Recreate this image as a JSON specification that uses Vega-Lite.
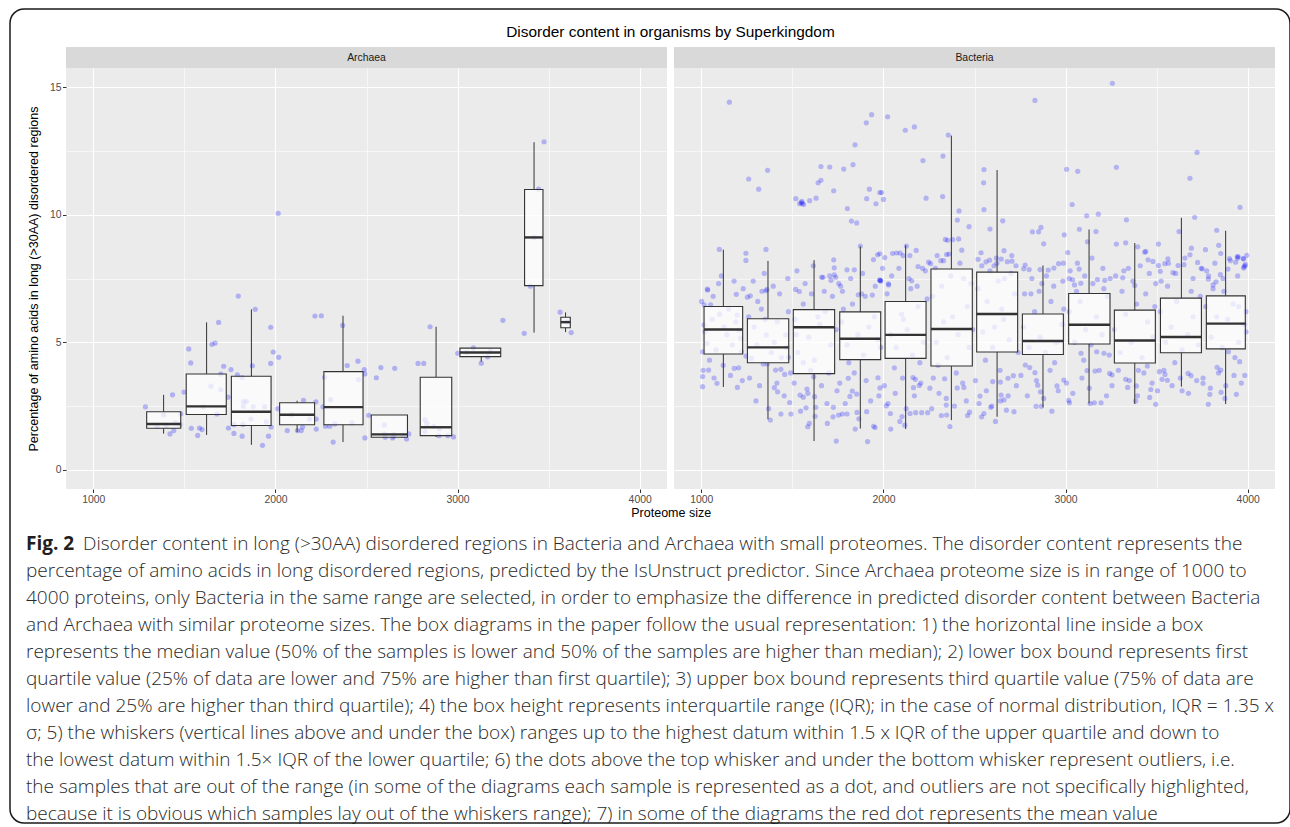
{
  "$schema": "https://vega.github.io/schema/vega-lite/v6.json",
  "background": "white",
  "padding": {"left": 9, "top": 8, "right": 1, "bottom": 1},
  "autosize": {"type": "pad"},
  "config": {
    "view": {"stroke": null},
    "font": "Liberation Sans",
    "axis": {"domain": false, "gridColor": "#FFFFFF", "labelColor": "#4D4D4D", "labelFont": "Liberation Sans", "labelFontSize": 10.4, "tickColor": "#333333", "tickSize": 3.5, "tickWidth": 1, "labelPadding": 1.5, "titleFont": "Liberation Sans", "titleFontSize": 12.5, "titleFontWeight": "normal", "titleColor": "#000000", "labelOverlap": false, "labelFlush": false},
    "title": {"font": "Liberation Sans", "fontWeight": "normal", "color": "#000000"}
  },
  "datasets": {
    "boxA": [
      {"c":1386,"lo":1293,"hi":1480,"lw":1.42,"q1":1.63,"med":1.80,"q3":2.28,"uw":2.94},
      {"c":1622,"lo":1510,"hi":1730,"lw":1.37,"q1":2.17,"med":2.49,"q3":3.76,"uw":5.78},
      {"c":1868,"lo":1758,"hi":1976,"lw":0.98,"q1":1.74,"med":2.28,"q3":3.67,"uw":6.29},
      {"c":2119,"lo":2023,"hi":2215,"lw":1.48,"q1":1.77,"med":2.16,"q3":2.63,"uw":2.71},
      {"c":2371,"lo":2266,"hi":2481,"lw":1.09,"q1":1.77,"med":2.46,"q3":3.85,"uw":6.04},
      {"c":2626,"lo":2526,"hi":2725,"lw":1.28,"q1":1.28,"med":1.39,"q3":2.15,"uw":2.15},
      {"c":2882,"lo":2795,"hi":2968,"lw":1.29,"q1":1.34,"med":1.67,"q3":3.63,"uw":5.61},
      {"c":3130,"lo":3013,"hi":3237,"lw":4.24,"q1":4.44,"med":4.60,"q3":4.77,"uw":4.77},
      {"c":3420,"lo":3368,"hi":3469,"lw":5.38,"q1":7.22,"med":9.11,"q3":10.99,"uw":12.84},
      {"c":3593,"lo":3567,"hi":3619,"lw":5.40,"q1":5.57,"med":5.79,"q3":5.98,"uw":6.17}
    ],
    "boxB": [
      {"c":1121,"lo":1015,"hi":1227,"lw":3.25,"q1":4.54,"med":5.50,"q3":6.40,"uw":8.63},
      {"c":1366,"lo":1253,"hi":1480,"lw":1.98,"q1":4.20,"med":4.80,"q3":5.92,"uw":8.19},
      {"c":1619,"lo":1505,"hi":1732,"lw":1.13,"q1":3.77,"med":5.59,"q3":6.28,"uw":8.22},
      {"c":1873,"lo":1760,"hi":1985,"lw":1.62,"q1":4.32,"med":5.14,"q3":6.19,"uw":8.76},
      {"c":2122,"lo":2009,"hi":2234,"lw":1.60,"q1":4.37,"med":5.29,"q3":6.60,"uw":8.80},
      {"c":2373,"lo":2261,"hi":2488,"lw":1.95,"q1":4.07,"med":5.52,"q3":7.87,"uw":13.10},
      {"c":2624,"lo":2512,"hi":2737,"lw":2.08,"q1":4.62,"med":6.11,"q3":7.75,"uw":11.75},
      {"c":2876,"lo":2763,"hi":2988,"lw":2.45,"q1":4.52,"med":5.05,"q3":6.11,"uw":8.01},
      {"c":3129,"lo":3017,"hi":3244,"lw":2.60,"q1":4.93,"med":5.69,"q3":6.91,"uw":9.42},
      {"c":3380,"lo":3268,"hi":3493,"lw":2.58,"q1":4.19,"med":5.07,"q3":6.26,"uw":8.89},
      {"c":3636,"lo":3521,"hi":3746,"lw":3.26,"q1":4.59,"med":5.21,"q3":6.73,"uw":9.88},
      {"c":3879,"lo":3773,"hi":3987,"lw":2.58,"q1":4.74,"med":5.73,"q3":6.82,"uw":9.37}
    ],
    "ptsA": [
      {"x":1286,"y":2.47},{"x":1421,"y":1.41},{"x":1435,"y":2.94},{"x":1442,"y":1.54},{"x":1386,"y":2.16},{"x":1480,"y":2.20},{"x":1498,"y":3.05},{"x":1475,"y":1.77},{"x":1524,"y":4.74},{"x":1535,"y":4.19},
      {"x":1538,"y":1.63},{"x":1573,"y":1.35},{"x":1583,"y":1.64},{"x":1597,"y":1.58},{"x":1604,"y":2.47},{"x":1646,"y":3.28},{"x":1651,"y":4.92},{"x":1669,"y":4.97},{"x":1679,"y":2.19},{"x":1688,"y":5.78},
      {"x":1700,"y":3.14},{"x":1700,"y":3.75},{"x":1716,"y":4.06},{"x":1740,"y":2.85},{"x":1742,"y":1.64},{"x":1756,"y":3.93},{"x":1772,"y":1.43},{"x":1772,"y":1.77},{"x":1796,"y":6.81},{"x":1791,"y":3.72},
      {"x":1817,"y":3.62},{"x":1817,"y":1.32},{"x":1822,"y":1.78},{"x":1824,"y":2.49},{"x":1840,"y":2.68},{"x":1824,"y":2.68},{"x":1873,"y":4.08},{"x":1889,"y":6.29},{"x":1878,"y":2.47},{"x":1866,"y":1.99},
      {"x":1929,"y":0.96},{"x":1941,"y":2.47},{"x":1950,"y":1.88},{"x":1962,"y":1.32},{"x":1974,"y":5.59},{"x":1974,"y":4.17},{"x":1976,"y":1.68},{"x":1988,"y":4.62},{"x":2018,"y":4.41},{"x":2013,"y":2.40},
      {"x":2015,"y":10.05},{"x":2065,"y":1.54},{"x":2088,"y":2.16},{"x":2121,"y":1.54},{"x":2142,"y":1.54},{"x":2154,"y":2.72},{"x":2149,"y":1.68},{"x":2187,"y":1.99},{"x":2217,"y":6.03},{"x":2252,"y":6.04},
      {"x":2222,"y":2.67},{"x":2224,"y":1.60},{"x":2224,"y":1.99},{"x":2261,"y":2.47},{"x":2270,"y":3.63},{"x":2275,"y":1.71},{"x":2303,"y":2.75},{"x":2317,"y":1.09},{"x":2326,"y":1.80},{"x":2299,"y":1.71},
      {"x":2369,"y":5.66},{"x":2394,"y":4.09},{"x":2420,"y":1.85},{"x":2453,"y":4.26},{"x":2457,"y":3.54},{"x":2488,"y":3.93},{"x":2491,"y":3.76},{"x":2491,"y":1.25},{"x":2512,"y":2.14},{"x":2554,"y":3.61},
      {"x":2579,"y":4.01},{"x":2598,"y":1.76},{"x":2603,"y":1.28},{"x":2643,"y":1.25},{"x":2655,"y":3.98},{"x":2650,"y":1.32},{"x":2720,"y":1.21},{"x":2732,"y":1.41},{"x":2783,"y":4.17},{"x":2814,"y":4.17},
      {"x":2821,"y":1.97},{"x":2832,"y":1.82},{"x":2821,"y":1.50},{"x":2849,"y":5.61},{"x":2898,"y":1.34},{"x":2947,"y":1.34},{"x":2978,"y":1.29},{"x":3001,"y":4.57},{"x":3087,"y":4.78},{"x":3130,"y":4.18},
      {"x":3165,"y":4.43},{"x":3249,"y":5.86},{"x":3366,"y":5.35},{"x":3475,"y":12.86},{"x":3420,"y":9.10},{"x":3445,"y":11.0},{"x":3400,"y":7.20},{"x":3563,"y":6.18},{"x":3624,"y":5.38},{"x":3600,"y":5.80},
      {"x":3050,"y":4.60},{"x":3180,"y":4.65},{"x":1400,"y":1.75},{"x":1450,"y":1.85},{"x":1350,"y":1.70},{"x":2650,"y":1.38},{"x":2700,"y":1.35},{"x":2600,"y":1.40},{"x":2900,"y":1.62},{"x":2870,"y":1.70}
    ],
    "ptsB": [
      {"x":1154,"y":14.41},{"x":1033,"y":7.08},{"x":1099,"y":8.64},{"x":1245,"y":8.49},{"x":1245,"y":8.21},{"x":1260,"y":11.40},{"x":1315,"y":11.00},{"x":1364,"y":11.74},{"x":1355,"y":8.64},{"x":1360,"y":7.07},
      {"x":1519,"y":10.63},{"x":1540,"y":10.43},{"x":1548,"y":10.47},{"x":1555,"y":10.45},{"x":1562,"y":10.40},{"x":1552,"y":10.52},{"x":1595,"y":10.55},{"x":1630,"y":10.65},{"x":1641,"y":11.25},{"x":1657,"y":11.35},
      {"x":1657,"y":11.89},{"x":1705,"y":11.87},{"x":1727,"y":10.94},{"x":1782,"y":11.79},{"x":1802,"y":10.24},{"x":1824,"y":9.75},{"x":1833,"y":11.96},{"x":1844,"y":12.74},{"x":1853,"y":9.68},{"x":1873,"y":8.77},
      {"x":1906,"y":13.60},{"x":1935,"y":13.92},{"x":1908,"y":10.63},{"x":1923,"y":11.00},{"x":1959,"y":10.43},{"x":1980,"y":10.87},{"x":1990,"y":10.87},{"x":2000,"y":10.60},{"x":2023,"y":13.84},{"x":1983,"y":7.42},
      {"x":1979,"y":7.45},{"x":1986,"y":7.40},{"x":2027,"y":7.29},{"x":2120,"y":13.31},{"x":2170,"y":13.44},{"x":2126,"y":8.77},{"x":2217,"y":12.12},{"x":2234,"y":10.65},{"x":2327,"y":12.30},{"x":2325,"y":10.71},
      {"x":2356,"y":13.12},{"x":2415,"y":10.15},{"x":2406,"y":9.79},{"x":2470,"y":9.53},{"x":2413,"y":9.05},{"x":2380,"y":9.02},{"x":2352,"y":9.00},{"x":2340,"y":9.03},{"x":2430,"y":8.61},{"x":2552,"y":11.77},
      {"x":2550,"y":11.25},{"x":2552,"y":10.20},{"x":2585,"y":9.44},{"x":2655,"y":9.76},{"x":2662,"y":8.59},{"x":2832,"y":14.48},{"x":2818,"y":9.33},{"x":2852,"y":9.33},{"x":2865,"y":9.50},{"x":2880,"y":8.86},
      {"x":3006,"y":11.78},{"x":3067,"y":11.70},{"x":3036,"y":10.40},{"x":3012,"y":8.52},{"x":2993,"y":9.21},{"x":3076,"y":9.43},{"x":3116,"y":9.96},{"x":3180,"y":10.02},{"x":3167,"y":9.34},{"x":3120,"y":8.94},
      {"x":3257,"y":15.15},{"x":3279,"y":11.86},{"x":3334,"y":9.80},{"x":3279,"y":8.85},{"x":3330,"y":8.90},{"x":3396,"y":8.74},{"x":3510,"y":8.85},{"x":3435,"y":8.53},{"x":3683,"y":11.43},{"x":3722,"y":12.44},
      {"x":3709,"y":9.90},{"x":3623,"y":9.34},{"x":3691,"y":8.69},{"x":3768,"y":8.63},{"x":3830,"y":9.39},{"x":3841,"y":8.80},{"x":3852,"y":8.48},{"x":3958,"y":10.29},{"x":3995,"y":8.41},{"x":3945,"y":8.30},
      {"x":3978,"y":8.27},{"x":3900,"y":8.28},{"x":3980,"y":7.96},{"x":3892,"y":7.87},{"x":3784,"y":7.48},{"x":3826,"y":7.37},{"x":1727,"y":8.23},{"x":1800,"y":7.84},{"x":1840,"y":7.84},{"x":1705,"y":7.60},
      {"x":1738,"y":7.55},{"x":1755,"y":7.30},{"x":1668,"y":7.55},{"x":1945,"y":8.24},{"x":1968,"y":8.43},{"x":1980,"y":8.47},{"x":2007,"y":8.32},{"x":2050,"y":8.48},{"x":2072,"y":8.50},{"x":2092,"y":8.50},
      {"x":2108,"y":8.40},{"x":2145,"y":8.40},{"x":2180,"y":8.60},{"x":2155,"y":7.41},{"x":2190,"y":7.97},{"x":2215,"y":7.90},{"x":2248,"y":8.14},{"x":2259,"y":8.08},{"x":2295,"y":8.40},{"x":2315,"y":8.20},
      {"x":2347,"y":8.44},{"x":2360,"y":8.46},{"x":2520,"y":8.25},{"x":2536,"y":8.51},{"x":2563,"y":8.15},{"x":2583,"y":8.22},{"x":2607,"y":8.00},{"x":2623,"y":8.10},{"x":2647,"y":8.26},{"x":2680,"y":8.16},
      {"x":2706,"y":8.18},{"x":2728,"y":8.00},{"x":2770,"y":7.88},{"x":2800,"y":7.85},{"x":2778,"y":8.03},{"x":2860,"y":7.85},{"x":2905,"y":7.83},{"x":2936,"y":7.91},{"x":2962,"y":8.08},{"x":2988,"y":8.10},
      {"x":3020,"y":7.50},{"x":3049,"y":7.25},{"x":3084,"y":7.31},{"x":3075,"y":7.87},{"x":3038,"y":7.45},{"x":3175,"y":7.46},{"x":3215,"y":7.43},{"x":3210,"y":7.10},{"x":3314,"y":7.53},{"x":3345,"y":7.90},
      {"x":3380,"y":7.23},{"x":3440,"y":8.56},{"x":3453,"y":8.23},{"x":3480,"y":8.17},{"x":3510,"y":8.01},{"x":3520,"y":7.78},{"x":3545,"y":8.08},{"x":3562,"y":8.27},{"x":3590,"y":7.73},{"x":3618,"y":8.01},
      {"x":3650,"y":8.04},{"x":3683,"y":8.43},{"x":3725,"y":8.13},{"x":3750,"y":7.88},{"x":3785,"y":7.60},{"x":3810,"y":7.25},{"x":3850,"y":7.65},{"x":3934,"y":8.14},{"x":3948,"y":8.35},{"x":3975,"y":8.28},
      {"x":3987,"y":8.05},{"x":1002,"y":6.60},{"x":1015,"y":6.47},{"x":1007,"y":3.66},{"x":1007,"y":3.26},{"x":1035,"y":7.05},{"x":1040,"y":3.91},{"x":1086,"y":3.39},{"x":1051,"y":6.47},{"x":1192,"y":6.88},
      {"x":1181,"y":3.98},{"x":1198,"y":3.23},{"x":1253,"y":6.77},{"x":1269,"y":6.82},{"x":1245,"y":4.46},{"x":1333,"y":7.00},{"x":1355,"y":7.02},{"x":1340,"y":4.15},{"x":1362,"y":4.15},{"x":1408,"y":3.91},
      {"x":1437,"y":3.94},{"x":1401,"y":3.22},{"x":1419,"y":3.06},{"x":1379,"y":1.95},{"x":1437,"y":2.19},{"x":1492,"y":2.19},{"x":1485,"y":2.64},{"x":1458,"y":3.74},{"x":1478,"y":4.41},{"x":1518,"y":7.07},
      {"x":1538,"y":6.99},{"x":1542,"y":2.93},{"x":1560,"y":2.85},{"x":1575,"y":2.43},{"x":1584,"y":1.69},{"x":1593,"y":1.82},{"x":1580,"y":3.17},{"x":1617,"y":3.65},{"x":1622,"y":2.87},{"x":1628,"y":2.45},
      {"x":1661,"y":7.55},{"x":1692,"y":1.82},{"x":1741,"y":1.13},{"x":1712,"y":7.43},{"x":1730,"y":7.92},{"x":1730,"y":7.64},{"x":1725,"y":2.45},{"x":1723,"y":2.08},{"x":1754,"y":2.15},{"x":1765,"y":7.20},
      {"x":1774,"y":2.19},{"x":1800,"y":2.19},{"x":1816,"y":2.88},{"x":1807,"y":3.59},{"x":1829,"y":3.09},{"x":1853,"y":2.97},{"x":1855,"y":2.25},{"x":1862,"y":6.86},{"x":1880,"y":6.90},{"x":1908,"y":2.28},
      {"x":1913,"y":1.11},{"x":1946,"y":1.71},{"x":1954,"y":1.66},{"x":1939,"y":6.85},{"x":1981,"y":7.42},{"x":2029,"y":7.25},{"x":1970,"y":3.61},{"x":1981,"y":3.21},{"x":2016,"y":2.51},{"x":2038,"y":2.21},
      {"x":2040,"y":1.60},{"x":2102,"y":2.09},{"x":2117,"y":1.75},{"x":2146,"y":2.21},{"x":2177,"y":2.24},{"x":2210,"y":2.24},{"x":2243,"y":2.24},{"x":2162,"y":3.62},{"x":2175,"y":3.55},{"x":2165,"y":3.22},
      {"x":2197,"y":3.31},{"x":2274,"y":3.60},{"x":2336,"y":3.57},{"x":2345,"y":2.54},{"x":2318,"y":2.13},{"x":2347,"y":2.15},{"x":2405,"y":3.21},{"x":2442,"y":3.23},{"x":2462,"y":2.13},{"x":2473,"y":2.26},
      {"x":2530,"y":2.89},{"x":2539,"y":2.08},{"x":2552,"y":2.21},{"x":2589,"y":2.45},{"x":2600,"y":3.46},{"x":2642,"y":3.44},{"x":2646,"y":2.93},{"x":2642,"y":2.70},{"x":2662,"y":2.74},{"x":2675,"y":2.34},
      {"x":2717,"y":2.28},{"x":2713,"y":3.69},{"x":2684,"y":3.59},{"x":2779,"y":4.11},{"x":2803,"y":4.01},{"x":2832,"y":3.81},{"x":2847,"y":3.32},{"x":2838,"y":2.49},{"x":2867,"y":2.49},{"x":2862,"y":3.06},
      {"x":2953,"y":3.29},{"x":2990,"y":3.52},{"x":3017,"y":2.72},{"x":3021,"y":2.63},{"x":3085,"y":4.57},{"x":3118,"y":3.89},{"x":3162,"y":3.87},{"x":3158,"y":2.63},{"x":3195,"y":2.63},{"x":3171,"y":4.63},
      {"x":3211,"y":4.57},{"x":3242,"y":3.78},{"x":3255,"y":3.72},{"x":3330,"y":3.55},{"x":3341,"y":3.23},{"x":3389,"y":3.29},{"x":3449,"y":4.07},{"x":3468,"y":3.15},{"x":3462,"y":2.84},{"x":3495,"y":2.57},
      {"x":3515,"y":3.85},{"x":3530,"y":3.55},{"x":3546,"y":3.74},{"x":3559,"y":3.51},{"x":3673,"y":3.78},{"x":3689,"y":3.69},{"x":3755,"y":3.39},{"x":3792,"y":2.96},{"x":3784,"y":2.57},{"x":3854,"y":3.04},
      {"x":3938,"y":2.96},{"x":3984,"y":3.70},{"x":3852,"y":3.91},{"x":3832,"y":4.02},{"x":3894,"y":4.63},{"x":3956,"y":4.24},{"x":3991,"y":5.41},{"x":3951,"y":6.40},{"x":3978,"y":7.91},{"x":3943,"y":8.36},
      {"x":1015,"y":5.68},{"x":1020,"y":5.42},{"x":1031,"y":4.96},{"x":1007,"y":4.63},{"x":1196,"y":6.07},{"x":1207,"y":5.48},{"x":1216,"y":5.16},{"x":1220,"y":4.63},{"x":1060,"y":5.90},{"x":1100,"y":6.10},
      {"x":1140,"y":5.30},{"x":1170,"y":4.90},{"x":1080,"y":4.70},{"x":1125,"y":5.60},{"x":1150,"y":6.30},{"x":1190,"y":5.80},{"x":1275,"y":4.37},{"x":1306,"y":4.90},{"x":1357,"y":5.29},{"x":1417,"y":5.81},
      {"x":1463,"y":5.29},{"x":1478,"y":6.20},{"x":1290,"y":5.60},{"x":1330,"y":6.30},{"x":1385,"y":4.60},{"x":1440,"y":4.40},{"x":1400,"y":5.00},{"x":1350,"y":5.90},{"x":1470,"y":4.80},{"x":1260,"y":6.00},
      {"x":1515,"y":5.90},{"x":1530,"y":4.60},{"x":1560,"y":6.50},{"x":1590,"y":5.20},{"x":1620,"y":4.30},{"x":1650,"y":5.70},{"x":1680,"y":6.20},{"x":1710,"y":4.90},{"x":1740,"y":5.50},{"x":1600,"y":3.90},
      {"x":1700,"y":3.80},{"x":1560,"y":4.20},{"x":1640,"y":6.00},{"x":1520,"y":5.30},{"x":1770,"y":5.80},{"x":1800,"y":4.90},{"x":1830,"y":6.50},{"x":1860,"y":5.30},{"x":1890,"y":4.50},{"x":1920,"y":5.60},
      {"x":1950,"y":6.00},{"x":1985,"y":4.80},{"x":1810,"y":4.20},{"x":1900,"y":6.80},{"x":1970,"y":5.10},{"x":1780,"y":6.30},{"x":2020,"y":6.90},{"x":2040,"y":5.30},{"x":2070,"y":4.80},{"x":2100,"y":6.10},
      {"x":2130,"y":5.50},{"x":2160,"y":4.50},{"x":2190,"y":6.40},{"x":2220,"y":5.00},{"x":2240,"y":6.70},{"x":2060,"y":4.00},{"x":2150,"y":7.10},{"x":2200,"y":4.20},{"x":2110,"y":5.90},{"x":2270,"y":6.80},
      {"x":2290,"y":5.00},{"x":2320,"y":7.20},{"x":2350,"y":4.40},{"x":2380,"y":6.00},{"x":2410,"y":5.30},{"x":2440,"y":7.50},{"x":2470,"y":4.80},{"x":2300,"y":4.10},{"x":2400,"y":3.80},{"x":2460,"y":6.40},
      {"x":2330,"y":5.80},{"x":2490,"y":5.50},{"x":2520,"y":7.10},{"x":2545,"y":5.40},{"x":2570,"y":6.60},{"x":2600,"y":4.80},{"x":2630,"y":7.40},{"x":2660,"y":5.90},{"x":2690,"y":5.10},{"x":2720,"y":6.90},
      {"x":2740,"y":4.60},{"x":2560,"y":4.30},{"x":2650,"y":6.30},{"x":2700,"y":7.70},{"x":2610,"y":5.60},{"x":2770,"y":5.60},{"x":2800,"y":4.80},{"x":2830,"y":6.20},{"x":2860,"y":5.20},{"x":2890,"y":4.60},
      {"x":2920,"y":6.60},{"x":2950,"y":5.00},{"x":2980,"y":5.70},{"x":2810,"y":6.90},{"x":2940,"y":4.20},{"x":2870,"y":7.30},{"x":2990,"y":6.30},{"x":3020,"y":6.20},{"x":3050,"y":5.00},{"x":3080,"y":6.60},
      {"x":3110,"y":5.50},{"x":3140,"y":4.90},{"x":3170,"y":6.00},{"x":3200,"y":5.30},{"x":3230,"y":6.80},{"x":3060,"y":7.00},{"x":3150,"y":7.30},{"x":3240,"y":4.50},{"x":3100,"y":4.30},{"x":3270,"y":5.50},
      {"x":3300,"y":4.60},{"x":3330,"y":6.10},{"x":3360,"y":5.00},{"x":3390,"y":6.50},{"x":3420,"y":4.40},{"x":3450,"y":5.80},{"x":3480,"y":5.20},{"x":3310,"y":7.00},{"x":3440,"y":6.90},{"x":3400,"y":3.90},
      {"x":3490,"y":6.40},{"x":3520,"y":6.20},{"x":3550,"y":5.00},{"x":3580,"y":5.60},{"x":3610,"y":6.60},{"x":3640,"y":4.70},{"x":3670,"y":5.30},{"x":3700,"y":6.00},{"x":3730,"y":4.90},{"x":3560,"y":7.20},
      {"x":3690,"y":7.00},{"x":3600,"y":4.20},{"x":3740,"y":6.80},{"x":3770,"y":6.40},{"x":3800,"y":5.20},{"x":3830,"y":6.00},{"x":3860,"y":4.80},{"x":3890,"y":5.90},{"x":3920,"y":6.50},{"x":3950,"y":5.00},
      {"x":3980,"y":5.70},{"x":3810,"y":7.10},{"x":3930,"y":4.40},{"x":3870,"y":7.00},{"x":3990,"y":6.20},
      {"x":1010,"y":3.9},{"x":1045,"y":4.3},{"x":1070,"y":3.6},{"x":1095,"y":7.3},{"x":1120,"y":4.1},{"x":1160,"y":3.7},{"x":1205,"y":4.0},{"x":1230,"y":7.1},{"x":1065,"y":6.8},{"x":1110,"y":7.6},
      {"x":1180,"y":7.4},{"x":1225,"y":3.5},{"x":1265,"y":3.6},{"x":1285,"y":7.4},{"x":1300,"y":2.7},{"x":1320,"y":3.3},{"x":1345,"y":7.7},{"x":1370,"y":2.4},{"x":1395,"y":7.2},{"x":1415,"y":3.4},
      {"x":1430,"y":6.9},{"x":1455,"y":2.9},{"x":1475,"y":7.5},{"x":1490,"y":3.8},{"x":1310,"y":6.6},{"x":1510,"y":3.4},{"x":1525,"y":7.8},{"x":1545,"y":2.3},{"x":1570,"y":7.3},{"x":1585,"y":3.0},
      {"x":1605,"y":6.9},{"x":1625,"y":2.1},{"x":1660,"y":3.3},{"x":1675,"y":7.0},{"x":1690,"y":2.6},{"x":1720,"y":6.8},{"x":1745,"y":3.1},{"x":1615,"y":8.0},{"x":1760,"y":3.4},{"x":1775,"y":7.0},
      {"x":1790,"y":2.6},{"x":1820,"y":7.5},{"x":1840,"y":3.8},{"x":1865,"y":2.0},{"x":1885,"y":7.7},{"x":1905,"y":3.5},{"x":1930,"y":2.7},{"x":1955,"y":7.2},{"x":1975,"y":2.9},{"x":1995,"y":7.9},
      {"x":1845,"y":1.6},{"x":2005,"y":3.3},{"x":2025,"y":2.6},{"x":2045,"y":7.6},{"x":2065,"y":3.0},{"x":2085,"y":7.9},{"x":2105,"y":3.6},{"x":2125,"y":2.4},{"x":2140,"y":7.5},{"x":2170,"y":2.9},
      {"x":2185,"y":7.2},{"x":2205,"y":3.4},{"x":2230,"y":7.8},{"x":2090,"y":1.9},{"x":2255,"y":3.2},{"x":2265,"y":2.4},{"x":2285,"y":7.9},{"x":2305,"y":3.0},{"x":2330,"y":8.2},{"x":2345,"y":2.8},
      {"x":2370,"y":7.6},{"x":2390,"y":2.5},{"x":2420,"y":8.1},{"x":2435,"y":3.4},{"x":2455,"y":2.7},{"x":2480,"y":7.3},{"x":2365,"y":1.7},{"x":2505,"y":3.5},{"x":2525,"y":2.6},{"x":2540,"y":8.0},
      {"x":2565,"y":3.1},{"x":2585,"y":7.8},{"x":2595,"y":2.5},{"x":2620,"y":8.3},{"x":2640,"y":3.9},{"x":2665,"y":7.5},{"x":2685,"y":2.9},{"x":2705,"y":8.4},{"x":2730,"y":3.3},{"x":2615,"y":1.9},
      {"x":2755,"y":3.7},{"x":2775,"y":6.9},{"x":2790,"y":2.9},{"x":2815,"y":7.5},{"x":2840,"y":3.5},{"x":2855,"y":7.0},{"x":2880,"y":2.8},{"x":2895,"y":7.6},{"x":2915,"y":3.9},{"x":2935,"y":7.2},
      {"x":2960,"y":3.1},{"x":2985,"y":7.4},{"x":2925,"y":2.3},{"x":3005,"y":3.4},{"x":3025,"y":7.8},{"x":3040,"y":3.0},{"x":3065,"y":8.1},{"x":3090,"y":3.6},{"x":3105,"y":7.6},{"x":3130,"y":3.2},
      {"x":3145,"y":8.3},{"x":3185,"y":3.9},{"x":3205,"y":7.9},{"x":3225,"y":2.9},{"x":3245,"y":7.5},{"x":3135,"y":2.6},{"x":3255,"y":3.3},{"x":3275,"y":7.6},{"x":3290,"y":3.9},{"x":3320,"y":7.8},
      {"x":3350,"y":3.5},{"x":3370,"y":7.4},{"x":3395,"y":2.9},{"x":3410,"y":8.0},{"x":3430,"y":3.8},{"x":3460,"y":7.7},{"x":3475,"y":3.4},{"x":3495,"y":7.3},{"x":3385,"y":2.7},{"x":3505,"y":3.1},
      {"x":3525,"y":7.4},{"x":3540,"y":3.9},{"x":3565,"y":8.1},{"x":3585,"y":3.3},{"x":3605,"y":7.7},{"x":3630,"y":3.6},{"x":3655,"y":8.3},{"x":3675,"y":3.0},{"x":3700,"y":7.5},{"x":3720,"y":3.5},
      {"x":3745,"y":7.9},{"x":3640,"y":3.1},{"x":3755,"y":3.6},{"x":3775,"y":7.8},{"x":3795,"y":3.2},{"x":3820,"y":8.1},{"x":3840,"y":3.8},{"x":3865,"y":7.5},{"x":3880,"y":3.3},{"x":3905,"y":8.2},
      {"x":3925,"y":3.7},{"x":3945,"y":7.6},{"x":3965,"y":3.4},{"x":3985,"y":8.0},{"x":3875,"y":2.8}
    ],
    "cap": [
      {"l":1,"s":"b","t":"Fig. 2"},
      {"l":1,"s":"r1","t":"Disorder content in long (>30AA) disordered regions in Bacteria and Archaea with small proteomes. The disorder content represents the"},
      {"l":2,"s":"r","t":"percentage of amino acids in long disordered regions, predicted by the IsUnstruct predictor. Since Archaea proteome size is in range of 1000 to"},
      {"l":3,"s":"r","t":"4000 proteins, only Bacteria in the same range are selected, in order to emphasize the difference in predicted disorder content between Bacteria"},
      {"l":4,"s":"r","t":"and Archaea with similar proteome sizes. The box diagrams in the paper follow the usual representation: 1) the horizontal line inside a box"},
      {"l":5,"s":"r","t":"represents the median value (50% of the samples is lower and 50% of the samples are higher than median); 2) lower box bound represents first"},
      {"l":6,"s":"r","t":"quartile value (25% of data are lower and 75% are higher than first quartile); 3) upper box bound represents third quartile value (75% of data are"},
      {"l":7,"s":"r","t":"lower and 25% are higher than third quartile); 4) the box height represents interquartile range (IQR); in the case of normal distribution, IQR = 1.35 x"},
      {"l":8,"s":"r","t":"σ; 5) the whiskers (vertical lines above and under the box) ranges up to the highest datum within 1.5 x IQR of the upper quartile and down to"},
      {"l":9,"s":"r","t":"the lowest datum within 1.5× IQR of the lower quartile; 6) the dots above the top whisker and under the bottom whisker represent outliers, i.e."},
      {"l":10,"s":"r","t":"the samples that are out of the range (in some of the diagrams each sample is represented as a dot, and outliers are not specifically highlighted,"},
      {"l":11,"s":"r","t":"because it is obvious which samples lay out of the whiskers range); 7) in some of the diagrams the red dot represents the mean value"}
    ]
  },
  "bounds": "flush",
  "spacing": 0,
  "hconcat": [
    {
      "spacing": 0,
      "hconcat": [
        {
          "width": 16,
          "height": 10,
          "data": {"values": [{"t": ""}]},
          "mark": {"type": "text"},
          "encoding": {"text": {"field": "t"}}
        },
        {
          "spacing": 0,
          "vconcat": [
            {
              "width": 1248,
              "height": 38,
              "data": {"values": [{"t": "Disorder content in organisms by Superkingdom"}]},
              "mark": {"type": "text", "font": "Liberation Sans", "fontSize": 15.4, "color": "#000000", "dx": -19.5, "dy": 4, "baseline": "middle"},
              "encoding": {"text": {"field": "t"}}
            },
            {
              "spacing": 7,
              "title": {"text": "Proteome size", "orient": "bottom", "anchor": "middle", "fontSize": 12.5, "font": "Liberation Sans", "fontWeight": "normal", "color": "#000000", "offset": 3, "dx": 20},
              "hconcat": [
                {
                  "bounds": "flush",
                  "spacing": 0,
                  "vconcat": [
                    {
                      "width": 601,
                      "height": 21,
                      "view": {"fill": "#D9D9D9", "stroke": null},
                      "data": {"values": [{"t": "Archaea"}]},
                      "mark": {"type": "text", "font": "Liberation Sans", "fontSize": 10.4, "color": "#1A1A1A", "baseline": "middle"},
                      "encoding": {"text": {"field": "t"}}
                    },
                    {
                      "width": 601,
                      "height": 421,
                      "view": {"fill": "#EBEBEB", "stroke": null},
                      "layer": [
                        {
                          "data": {"name": "ptsA"},
                          "mark": {"type": "circle", "color": "#0000FF", "opacity": 0.25, "size": 27},
                          "encoding": {
                            "x": {"field": "x", "type": "quantitative", "scale": {"domain": [850, 4150], "nice": false, "zero": false}, "title": null,
                              "axis": {"values": [1000, 1500, 2000, 2500, 3000, 3500, 4000], "format": "d", "labelExpr": "datum.value % 1000 === 0 ? datum.label : ''", "gridWidth": {"condition": {"test": "datum.value % 1000 !== 0", "value": 0.55}, "value": 1.1}, "tickOpacity": {"condition": {"test": "datum.value % 1000 !== 0", "value": 0}, "value": 1}}},
                            "y": {"field": "y", "type": "quantitative", "scale": {"domain": [-0.75, 15.75], "nice": false, "zero": false}, "title": "Percentage of amino acids in long (>30AA) disordered regions",
                              "axis": {"values": [0, 2.5, 5, 7.5, 10, 12.5, 15], "labelExpr": "datum.value % 5 === 0 ? datum.label : ''", "gridWidth": {"condition": {"test": "datum.value % 5 !== 0", "value": 0.55}, "value": 1.1}, "tickOpacity": {"condition": {"test": "datum.value % 5 !== 0", "value": 0}, "value": 1}, "titlePadding": 9}}
                          }
                        },
                        {
                          "data": {"name": "boxA"},
                          "mark": {"type": "rule", "color": "#333333", "strokeWidth": 1},
                          "encoding": {
                            "x": {"field": "c", "type": "quantitative", "scale": {"domain": [850, 4150], "nice": false, "zero": false}, "title": null},
                            "y": {"field": "lw", "type": "quantitative", "scale": {"domain": [-0.75, 15.75], "nice": false, "zero": false}, "title": "Percentage of amino acids in long (>30AA) disordered regions"},
                            "y2": {"field": "q1"}
                          }
                        },
                        {
                          "data": {"name": "boxA"},
                          "mark": {"type": "rule", "color": "#333333", "strokeWidth": 1},
                          "encoding": {
                            "x": {"field": "c", "type": "quantitative", "scale": {"domain": [850, 4150], "nice": false, "zero": false}, "title": null},
                            "y": {"field": "q3", "type": "quantitative", "scale": {"domain": [-0.75, 15.75], "nice": false, "zero": false}, "title": "Percentage of amino acids in long (>30AA) disordered regions"},
                            "y2": {"field": "uw"}
                          }
                        },
                        {
                          "data": {"name": "boxA"},
                          "mark": {"type": "rect", "fill": "#FFFFFF", "fillOpacity": 0.72, "stroke": "#333333", "strokeWidth": 1.1},
                          "encoding": {
                            "x": {"field": "lo", "type": "quantitative", "scale": {"domain": [850, 4150], "nice": false, "zero": false}, "title": null},
                            "x2": {"field": "hi"},
                            "y": {"field": "q1", "type": "quantitative", "scale": {"domain": [-0.75, 15.75], "nice": false, "zero": false}, "title": "Percentage of amino acids in long (>30AA) disordered regions"},
                            "y2": {"field": "q3"}
                          }
                        },
                        {
                          "data": {"name": "boxA"},
                          "mark": {"type": "rule", "color": "#333333", "strokeWidth": 2.4},
                          "encoding": {
                            "x": {"field": "lo", "type": "quantitative", "scale": {"domain": [850, 4150], "nice": false, "zero": false}, "title": null},
                            "x2": {"field": "hi"},
                            "y": {"field": "med", "type": "quantitative", "scale": {"domain": [-0.75, 15.75], "nice": false, "zero": false}, "title": "Percentage of amino acids in long (>30AA) disordered regions"}
                          }
                        }
                      ]
                    }
                  ]
                },
                {
                  "bounds": "flush",
                  "spacing": 0,
                  "vconcat": [
                    {
                      "width": 601,
                      "height": 21,
                      "view": {"fill": "#D9D9D9", "stroke": null},
                      "data": {"values": [{"t": "Bacteria"}]},
                      "mark": {"type": "text", "font": "Liberation Sans", "fontSize": 10.4, "color": "#1A1A1A", "baseline": "middle"},
                      "encoding": {"text": {"field": "t"}}
                    },
                    {
                      "width": 601,
                      "height": 421,
                      "view": {"fill": "#EBEBEB", "stroke": null},
                      "layer": [
                        {
                          "data": {"name": "ptsB"},
                          "mark": {"type": "circle", "color": "#0000FF", "opacity": 0.24, "size": 27},
                          "encoding": {
                            "x": {"field": "x", "type": "quantitative", "scale": {"domain": [850, 4150], "nice": false, "zero": false}, "title": null,
                              "axis": {"values": [1000, 1500, 2000, 2500, 3000, 3500, 4000], "format": "d", "labelExpr": "datum.value % 1000 === 0 ? datum.label : ''", "gridWidth": {"condition": {"test": "datum.value % 1000 !== 0", "value": 0.55}, "value": 1.1}, "tickOpacity": {"condition": {"test": "datum.value % 1000 !== 0", "value": 0}, "value": 1}}},
                            "y": {"field": "y", "type": "quantitative", "scale": {"domain": [-0.75, 15.75], "nice": false, "zero": false}, "title": null,
                              "axis": {"values": [0, 2.5, 5, 7.5, 10, 12.5, 15], "labels": false, "ticks": false, "gridWidth": {"condition": {"test": "datum.value % 5 !== 0", "value": 0.55}, "value": 1.1}}}
                          }
                        },
                        {
                          "data": {"name": "boxB"},
                          "mark": {"type": "rule", "color": "#333333", "strokeWidth": 1},
                          "encoding": {
                            "x": {"field": "c", "type": "quantitative", "scale": {"domain": [850, 4150], "nice": false, "zero": false}, "title": null},
                            "y": {"field": "lw", "type": "quantitative", "scale": {"domain": [-0.75, 15.75], "nice": false, "zero": false}, "title": null},
                            "y2": {"field": "q1"}
                          }
                        },
                        {
                          "data": {"name": "boxB"},
                          "mark": {"type": "rule", "color": "#333333", "strokeWidth": 1},
                          "encoding": {
                            "x": {"field": "c", "type": "quantitative", "scale": {"domain": [850, 4150], "nice": false, "zero": false}, "title": null},
                            "y": {"field": "q3", "type": "quantitative", "scale": {"domain": [-0.75, 15.75], "nice": false, "zero": false}, "title": null},
                            "y2": {"field": "uw"}
                          }
                        },
                        {
                          "data": {"name": "boxB"},
                          "mark": {"type": "rect", "fill": "#FFFFFF", "fillOpacity": 0.72, "stroke": "#333333", "strokeWidth": 1.1},
                          "encoding": {
                            "x": {"field": "lo", "type": "quantitative", "scale": {"domain": [850, 4150], "nice": false, "zero": false}, "title": null},
                            "x2": {"field": "hi"},
                            "y": {"field": "q1", "type": "quantitative", "scale": {"domain": [-0.75, 15.75], "nice": false, "zero": false}, "title": null},
                            "y2": {"field": "q3"}
                          }
                        },
                        {
                          "data": {"name": "boxB"},
                          "mark": {"type": "rule", "color": "#333333", "strokeWidth": 2.4},
                          "encoding": {
                            "x": {"field": "lo", "type": "quantitative", "scale": {"domain": [850, 4150], "nice": false, "zero": false}, "title": null},
                            "x2": {"field": "hi"},
                            "y": {"field": "med", "type": "quantitative", "scale": {"domain": [-0.75, 15.75], "nice": false, "zero": false}, "title": null}
                          }
                        }
                      ]
                    }
                  ]
                }
              ]
            },
            {
              "width": 1250,
              "height": 300,
              "data": {"name": "cap"},
              "encoding": {
                "y": {"field": "l", "type": "ordinal", "scale": {"type": "point", "padding": 0.5556, "align": 0.8}, "axis": null},
                "text": {"field": "t"}
              },
              "layer": [
                {"transform": [{"filter": "datum.s === 'b'"}], "mark": {"type": "text", "align": "left", "baseline": "middle", "x": 0, "dx": -40, "font": "Open Sans", "fontSize": 19, "fontWeight": "bold", "color": "#231F20"}},
                {"transform": [{"filter": "datum.s === 'r1'"}], "mark": {"type": "text", "align": "left", "baseline": "middle", "x": 0, "dx": 17, "font": "Open Sans", "fontSize": 19, "fontWeight": 300, "color": "#2A2A2A"}},
                {"transform": [{"filter": "datum.s === 'r'"}], "mark": {"type": "text", "align": "left", "baseline": "middle", "x": 0, "dx": -40, "font": "Open Sans", "fontSize": 19, "fontWeight": 300, "color": "#2A2A2A"}}
              ]
            }
          ]
        }
      ]
    },
    {
      "width": 1280,
      "height": 814,
      "view": {"stroke": "#1A1A1A", "strokeWidth": 1.5, "cornerRadius": 14, "fill": null},
      "data": {"values": [{"t": ""}]},
      "mark": {"type": "text"},
      "encoding": {"text": {"field": "t"}}
    }
  ]
}
